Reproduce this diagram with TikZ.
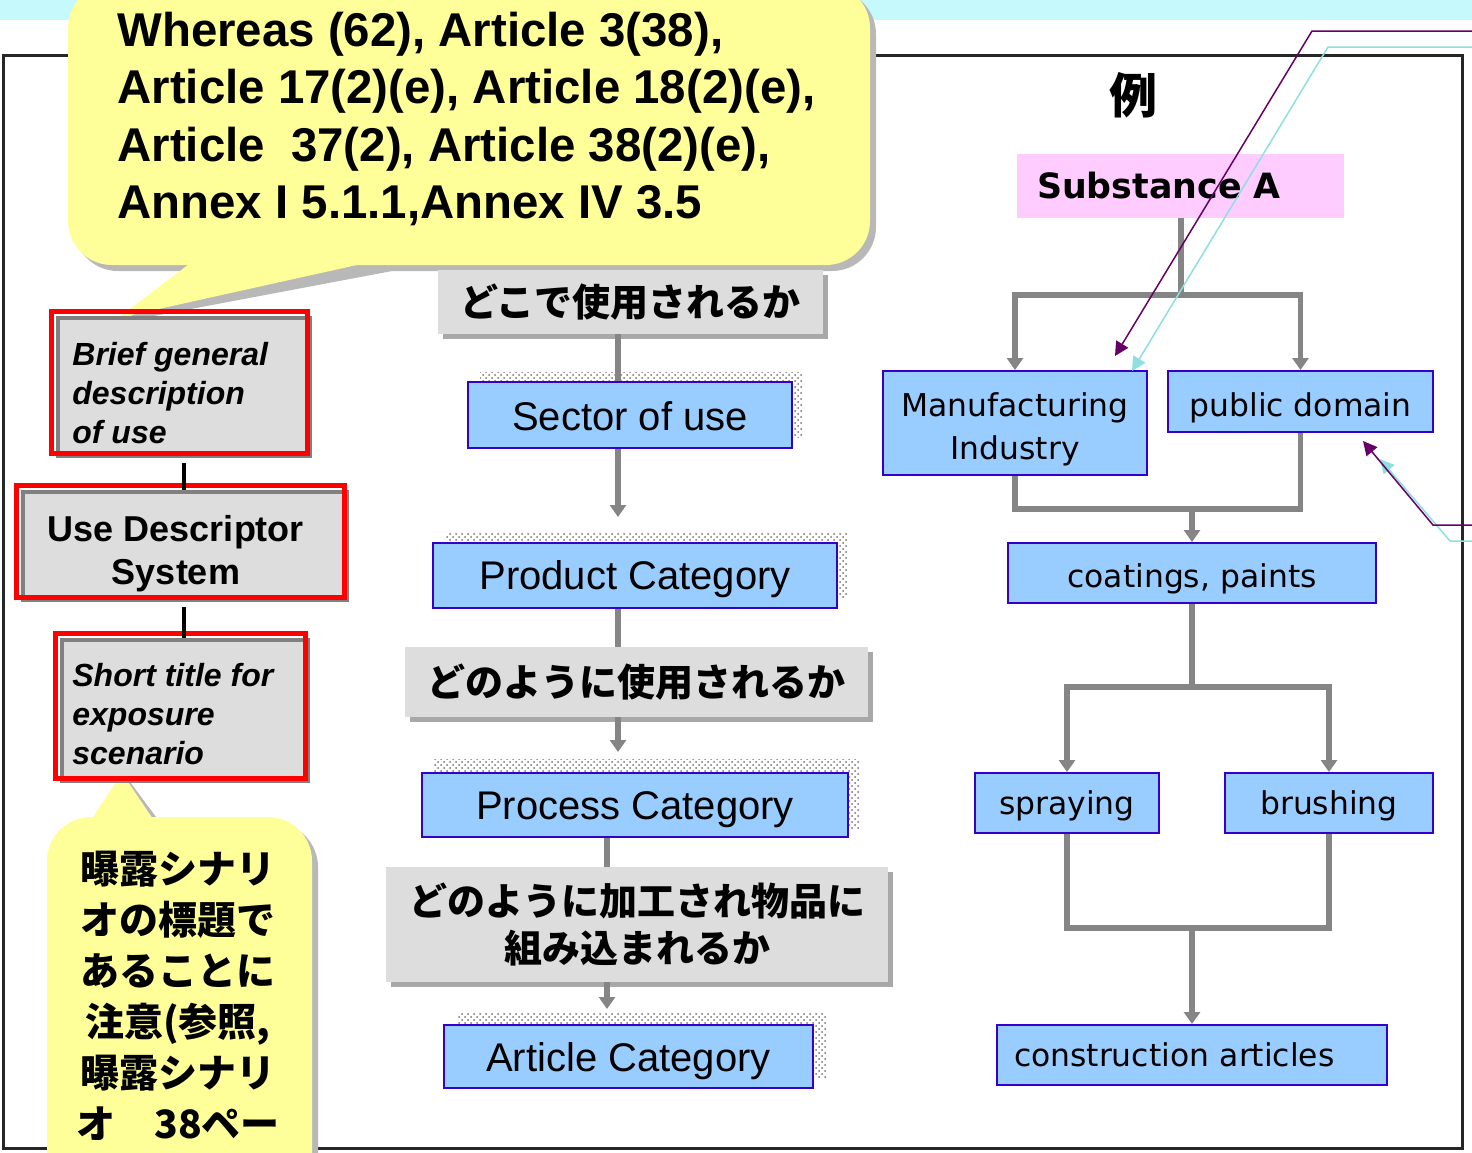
\documentclass[tikz,border=0pt]{standalone}
\usepackage{fontspec}
\setmainfont{Liberation Sans}
\newfontfamily\cjk{Noto Sans CJK JP}
\newfontfamily\dvs{DejaVu Sans}
\usetikzlibrary{arrows.meta,patterns,shadows}
\definecolor{bandcyan}{HTML}{C6F9FC}
\definecolor{calloutyellow}{HTML}{FFFF99}
\definecolor{calloutshadow}{HTML}{B8B8B8}
\definecolor{boxblue}{HTML}{99CCFF}
\definecolor{boxedge}{HTML}{3300CC}
\definecolor{labelgray}{HTML}{DDDDDD}
\definecolor{labelshadow}{HTML}{A8A8A8}
\definecolor{conngray}{HTML}{858585}
\definecolor{substpink}{HTML}{FFCCFF}
\definecolor{annpurple}{HTML}{660066}
\definecolor{anncyan}{HTML}{8EE0E0}
\definecolor{framered}{HTML}{FF0000}
\definecolor{frameedge}{HTML}{808080}
\newcommand\lowr[2]{\raisebox{-#1}[\height][\depth]{#2}}
\tikzset{
  bluebox/.style={draw=boxedge, line width=1pt, fill=boxblue, inner sep=0pt, font=\fontsize{20}{24}\selectfont},
  rbluebox/.style={draw=boxedge, line width=1pt, fill=boxblue, inner sep=0pt, font=\dvs\fontsize{15.7}{21.5}\selectfont, align=center},
  labelbox/.style={fill=labelgray, inner sep=0pt, drop shadow={shadow xshift=2.5pt, shadow yshift=-2.5pt, fill=labelshadow, opacity=1}, font=\cjk\bfseries\fontsize{19}{23.5}\selectfont, align=center},
  descbox/.style={fill=labelgray, draw=frameedge, line width=2pt, inner sep=0pt},
  desctext/.style={inner sep=0pt, align=left, font=\bfseries\itshape\fontsize{16}{19.5}\selectfont},
  redframe/.style={draw=framered, line width=2.5pt},
  texture/.style={pattern=crosshatch dots, pattern color=gray!90!black},
  conn/.style={draw=conngray, line width=2.6pt},
  connarrow/.style={conn, -{Triangle[width=8pt,length=6pt]}},
  blackconn/.style={draw=black, line width=1.6pt},
  annp/.style={draw=annpurple, line width=0.75pt, -{Triangle[width=7pt,length=7pt]}},
  annc/.style={draw=anncyan, line width=0.75pt, -{Triangle[width=7pt,length=7pt]}},
}
\begin{document}
\begin{tikzpicture}[x=0.5pt,y=-0.5pt]
\useasboundingbox (0,0) rectangle (1472,1152);
\clip (0,0) rectangle (1472,1152);
\fill[white] (0,0) rectangle (1472,1152);
\fill[bandcyan] (0,0) rectangle (1472,20);
\draw[line width=1.5pt, black!85] (3,55) rectangle (1462,1148);

% ---------- top callout ----------
\fill[calloutshadow, rounded corners=22pt] (74,-10) rectangle (876,271);
\fill[calloutshadow] (205,266) -- (122,322) -- (408,268) -- cycle;
\fill[calloutyellow, rounded corners=22pt] (68,-16) rectangle (870,265);
\fill[calloutyellow] (201,255) -- (118,318) -- (402,255) -- cycle;
\node[anchor=north west, inner sep=0pt, align=left, font=\bfseries\fontsize{23.7}{28.6}\selectfont] (refs) at (117,12)
  {Whereas (62), Article 3(38),\\Article 17(2)(e), Article 18(2)(e),\\Article~~37(2), Article 38(2)(e),\\Annex I 5.1.1,Annex IV 3.5};

% ---------- bottom callout ----------
\fill[calloutshadow, rounded corners=22pt] (53,823) rectangle (318,1200);
\fill[calloutshadow] (94,825) -- (127,778) -- (162,825) -- cycle;
\fill[calloutyellow, rounded corners=22pt] (47,817) rectangle (312,1200);
\fill[calloutyellow] (88,825) -- (122,773) -- (157,825) -- cycle;
\node[anchor=north, align=center, inner sep=0pt, font=\cjk\bfseries\fontsize{19.5}{25.5}\selectfont] (note) at (178,851)
  {曝露シナリ\\オの標題で\\あることに\\注意(参照,\\曝露シナリ\\オ　38ペー};

% ---------- left column ----------
\node[descbox, minimum width=126pt, minimum height=69pt] (brief) at (184,387) {};
\draw[redframe] ([shift={(-5,-5)}]brief.north west) rectangle ([shift={(-5,-5)}]brief.south east);
\node[desctext, anchor=west] (brieftext) at (72,393) {Brief general\\description\\of use};
\node[descbox, minimum width=162pt, minimum height=54pt] (usedesc) at (185,546) {};
\draw[redframe] ([shift={(-5,-5)}]usedesc.north west) rectangle ([shift={(-5,-5)}]usedesc.south east);
\node[inner sep=0pt, align=center, font=\bfseries\fontsize{18}{21.5}\selectfont] (usetext) at (176,554) {Use Descriptor\\System};
\node[descbox, minimum width=123pt, minimum height=70.5pt] (short) at (185,710.5) {};
\draw[redframe] ([shift={(-5,-5)}]short.north west) rectangle ([shift={(-5,-5)}]short.south east);
\node[desctext, anchor=west] (shorttext) at (72,714.5) {Short title for\\exposure\\scenario};
\draw[blackconn] ([yshift=-2.5pt]brief.south) -- (brief.south |- usedesc.north);
\draw[blackconn] ([yshift=-2.5pt]usedesc.south -| brief.south) -- (brief.south |- short.north);

% ---------- middle column ----------
\fill[white] (480,372) rectangle (802,437); \fill[texture] (480,372) rectangle (802,437);
\fill[white] (445,532) rectangle (847,598); \fill[texture] (445,532) rectangle (847,598);
\fill[white] (433,759) rectangle (860,828); \fill[texture] (433,759) rectangle (860,828);
\fill[white] (458,1012) rectangle (827,1078); \fill[texture] (458,1012) rectangle (827,1078);

\node[labelbox, minimum width=192.5pt, minimum height=32pt] (where) at (630.5,302) {どこで使用されるか};
\node[labelbox, minimum width=231.5pt, minimum height=35pt] (how) at (636.5,682) {どのように使用されるか};
\node[labelbox, minimum width=251pt, minimum height=57.5pt] (howart) at (637,924.5) {どのように加工され物品に\\組み込まれるか};

\node[bluebox, minimum width=162pt, minimum height=33pt] (sector) at (630,415) {\lowr{0.5pt}{Sector of use}};
\node[bluebox, minimum width=202pt, minimum height=32.5pt] (product) at (635,575.5) {\lowr{2pt}{Product Category}};
\node[bluebox, minimum width=213pt, minimum height=32pt] (process) at (635,805) {\lowr{2.5pt}{Process Category}};
\node[bluebox, minimum width=184.5pt, minimum height=31.5pt] (article) at (628.5,1056.5) {\lowr{2.5pt}{Article Category}};

\coordinate (colA) at (618,0);
\coordinate (colB) at (607,0);
\draw[conn] (where.south -| colA) -- (sector.north -| colA);
\draw[connarrow, shorten >=12.5pt] (sector.south -| colA) -- (product.north -| colA);
\draw[conn] (product.south -| colA) -- (how.north -| colA);
\draw[connarrow, shorten >=10pt] (how.south -| colA) -- (process.north -| colA);
\draw[conn] (process.south -| colB) -- (howart.north -| colB);
\draw[connarrow, shorten >=7.5pt] (howart.south -| colB) -- (article.north -| colB);

% ---------- right column ----------
\node[font=\cjk\bfseries\fontsize{24}{28}\selectfont, inner sep=0pt] (rei) at (1133,95) {例};
\node[fill=substpink, minimum width=163.5pt, minimum height=32pt, text width=143.5pt, inner xsep=10pt, inner ysep=0pt,
      align=left, font=\dvs\bfseries\fontsize{17.4}{20}\selectfont] (subst) at (1180.5,186) {Substance A};
\node[rbluebox, minimum width=132pt, minimum height=52pt] (mfg) at (1015,423)
  {\lowr{3pt}{\begin{tabular}{@{}c@{}}Manufacturing\\Industry\end{tabular}}};
\node[rbluebox, minimum width=132.5pt, minimum height=30.5pt] (pd) at (1300.5,401.5) {\lowr{3pt}{public domain}};
\node[rbluebox, minimum width=184pt, minimum height=30pt] (coat) at (1192,573) {\lowr{3pt}{coatings, paints}};
\node[rbluebox, minimum width=92pt, minimum height=30pt] (spray) at (1067,803) {\lowr{1.5pt}{spraying}};
\node[rbluebox, minimum width=104pt, minimum height=30pt] (brush) at (1329,803) {\lowr{1.5pt}{brushing}};
\node[rbluebox, minimum width=195pt, minimum height=30pt, text width=178pt, inner xsep=8.5pt, align=left] (constr) at (1192,1055) {construction articles};

\coordinate (split1) at (1181,295);
\coordinate (merge1) at (1192,509);
\coordinate (split2) at (1192,687);
\coordinate (merge2) at (1192,928);
\draw[conn] (subst.south -| split1) -- (split1);
\draw[connarrow] (split1) -| (mfg.north);
\draw[connarrow] (split1) -| (pd.north);
\draw[conn] (mfg.south) |- (merge1);
\draw[conn] (pd.south) |- (merge1);
\draw[connarrow] (merge1) -- (coat.north);
\draw[conn] (coat.south) -- (split2);
\draw[connarrow] (split2) -| (spray.north);
\draw[connarrow] (split2) -| (brush.north);
\draw[conn] (spray.south) |- (merge2);
\draw[conn] (brush.south) |- (merge2);
\draw[connarrow] (merge2) -- (constr.north);

% ---------- annotation leaders ----------
\coordinate (p1s) at (1480,31);  \coordinate (p1b) at (1312,31);  \coordinate (p1t) at (1115,356);
\coordinate (c1s) at (1480,47);  \coordinate (c1b) at (1328,47);  \coordinate (c1t) at (1132,371);
\coordinate (p2s) at (1480,525); \coordinate (p2b) at (1433,525); \coordinate (p2t) at (1363,441);
\coordinate (c2s) at (1480,541); \coordinate (c2b) at (1450,541); \coordinate (c2t) at (1380,459);
\draw[annc] (c1s) -- (c1b) -- (c1t);
\draw[annp] (p1s) -- (p1b) -- (p1t);
\draw[annc] (c2s) -- (c2b) -- (c2t);
\draw[annp] (p2s) -- (p2b) -- (p2t);
\end{tikzpicture}
\end{document}
